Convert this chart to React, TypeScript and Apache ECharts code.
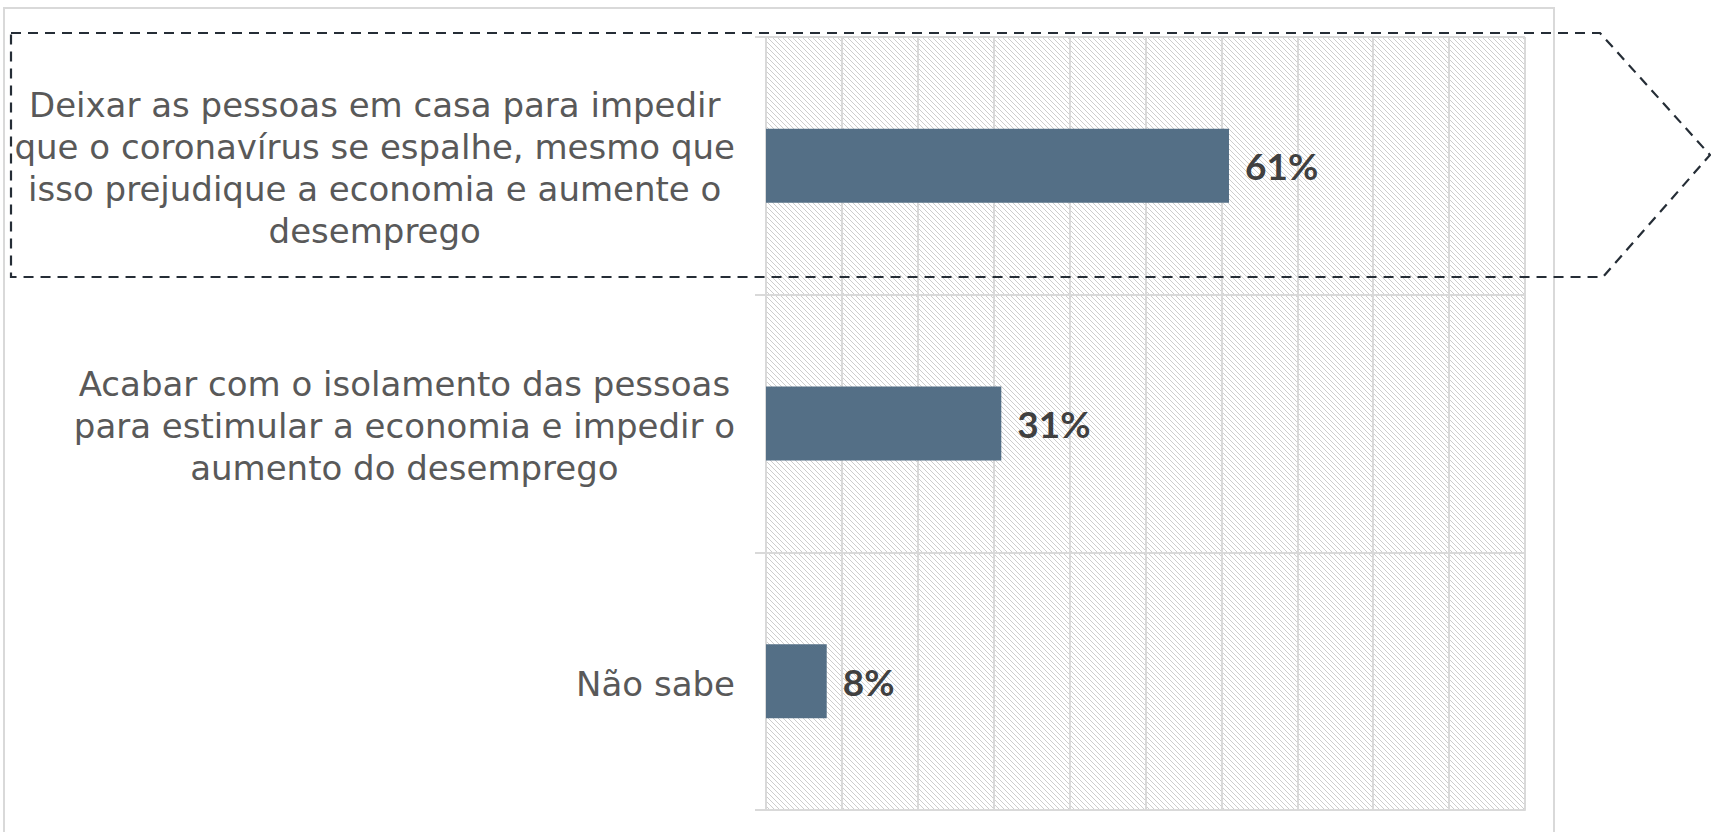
import React, { useEffect, useRef } from 'react';
import * as echarts from 'echarts';

const categories: string[] = [
  'Deixar as pessoas em casa para impedir\nque o coronavírus se espalhe, mesmo que\nisso prejudique a economia e aumente o\ndesemprego',
  'Acabar com o isolamento das pessoas\npara estimular a economia e impedir o\naumento do desemprego',
  'Não sabe',
];
const values: number[] = [61, 31, 8];
const axisMin = 0;
const axisMax = 100;
const axisStep = 10;

const GRID_COLOR = '#d9d9d9';

function makeHatch(): HTMLCanvasElement {
  const size = 5;
  const c = document.createElement('canvas');
  c.width = size;
  c.height = size;
  const ctx = c.getContext('2d')!;
  ctx.fillStyle = '#ffffff';
  ctx.fillRect(0, 0, size, size);
  ctx.fillStyle = '#cdcdcd';
  for (let i = 0; i < size; i++) {
    ctx.fillRect(i % size, i, 1, 1);
  }
  return c;
}

export default function App() {
  const ref = useRef<HTMLDivElement>(null);
  useEffect(() => {
    if (!ref.current) return;
    const chart = echarts.init(ref.current, null, { renderer: 'svg' });
    const hatch = makeHatch();
    chart.setOption({
      animation: false,
      backgroundColor: '#ffffff',
      grid: {
        left: 766,
        top: 37,
        right: 186,
        bottom: 22,
        show: true,
        borderWidth: 0,
        backgroundColor: { image: hatch, repeat: 'repeat', imageWidth: 5, imageHeight: 5 },
      },
      xAxis: {
        type: 'value',
        min: axisMin,
        max: axisMax,
        interval: axisStep,
        axisLabel: { show: false },
        axisTick: { show: false },
        axisLine: { show: true, lineStyle: { color: GRID_COLOR, width: 2 } },
        splitLine: { show: true, lineStyle: { color: GRID_COLOR, width: 2 } },
      },
      yAxis: {
        type: 'category',
        inverse: true,
        data: categories,
        axisLine: { show: true, lineStyle: { color: GRID_COLOR, width: 2 } },
        axisTick: { show: true, length: 11, lineStyle: { color: GRID_COLOR, width: 2 } },
        splitLine: { show: true, lineStyle: { color: GRID_COLOR, width: 2 } },
        axisLabel: {
          margin: 31,
          fontFamily: 'DejaVu Sans',
          fontSize: 34,
          color: '#595959',
          lineHeight: 42,
          padding: [5, 0, 0, 0],
          formatter: (v: string) =>
            v
              .split('\n')
              .map((l) => `{c|${l}}`)
              .join('\n'),
          rich: {
            c: {
              align: 'center',
              fontFamily: 'DejaVu Sans',
              fontSize: 34,
              color: '#595959',
              lineHeight: 42,
            },
          },
        },
      },
      series: [
        {
          type: 'bar',
          data: values,
          barWidth: 74,
          itemStyle: { color: '#546f86' },
          label: {
            show: true,
            position: 'right',
            distance: 16,
            formatter: '{c}%',
            fontFamily: 'Lato',
            fontWeight: 'bold',
            fontSize: 37,
            color: '#404040',
          },
        },
      ],
      graphic: [
        {
          type: 'rect',
          z: -10,
          silent: true,
          shape: { x: 4, y: 8, width: 1550, height: 900 },
          style: { fill: 'none', stroke: GRID_COLOR, lineWidth: 2 },
        },
        {
          type: 'polygon',
          z: 100,
          silent: true,
          shape: {
            points: [
              [11, 33],
              [1600, 33],
              [1710, 155],
              [1603, 277],
              [11, 277],
            ],
          },
          style: { fill: 'none', stroke: '#252d36', lineWidth: 2.2, lineDash: [10, 7] },
        },
      ],
    });
    return () => chart.dispose();
  }, []);
  return (
    <div
      ref={ref}
      style={{ position: 'fixed', left: 0, top: 0, width: 1711, height: 832 }}
    />
  );
}
